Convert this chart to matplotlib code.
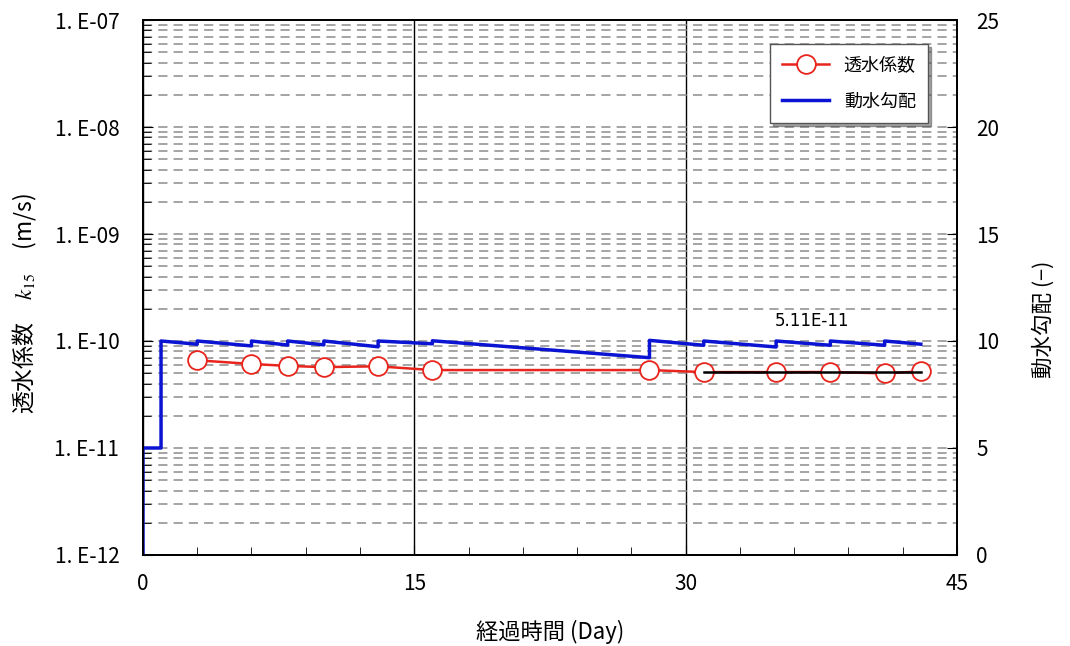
import matplotlib
matplotlib.use("Agg")
import matplotlib.pyplot as plt
from matplotlib.ticker import FixedLocator, LogLocator, NullFormatter

plt.rcParams['font.family'] = ['Noto Sans CJK JP', 'DejaVu Sans']
plt.rcParams['mathtext.fontset'] = 'stix'

### データ ###
# 透水係数 (m/s)
red_day = [3, 6, 8, 10, 13, 16, 28, 31, 35, 38, 41, 43]
red_k = [6.6e-11, 6.1e-11, 5.85e-11, 5.7e-11, 5.8e-11, 5.35e-11,
         5.35e-11, 5.12e-11, 5.12e-11, 5.13e-11, 4.98e-11, 5.2e-11]

# 動水勾配 (-)
blue_day = [0, 0, 1, 1, 3, 3, 6, 6, 8, 8, 10, 10, 13, 13, 16, 16,
            28, 28, 31, 31, 35, 35, 38, 38, 41, 41, 43]
blue_i = [0, 5, 5, 10.0, 9.85, 10.0, 9.77, 10.0, 9.81, 10.0, 9.82, 10.0,
          9.73, 10.0, 9.87, 10.01, 9.22, 10.03, 9.8, 10.0, 9.72, 10.0,
          9.8, 10.0, 9.8, 10.0, 9.85]

# 平均値 (31～43日)
avg_day = [31, 43]
avg_k = 5.11e-11
avg_label = "5.11E-11"

left_ticks = [1e-12, 1e-11, 1e-10, 1e-9, 1e-8, 1e-7]
left_labels = ["1. E-12", "1. E-11", "1. E-10", "1. E-09", "1. E-08", "1. E-07"]
x_ticks = [0, 15, 30, 45]
right_ticks = [0, 5, 10, 15, 20, 25]

### 描画 ###
fig = plt.figure(figsize=(10.7, 6.46), dpi=100)
ax = fig.add_axes([0.1336, 0.1409, 0.7608, 0.8281])
ax2 = ax.twinx()

ax.set_yscale('log')
ax.set_ylim(1e-12, 1e-7)
ax.set_xlim(0, 45)
ax.yaxis.set_major_locator(FixedLocator(left_ticks))
ax.set_yticklabels(left_labels)
ax.yaxis.set_minor_locator(LogLocator(base=10, subs=range(2, 10), numticks=20))
ax.yaxis.set_minor_formatter(NullFormatter())
ax.set_xticks(x_ticks)
ax.set_xticks(range(0, 46, 3), minor=True)

ax.grid(axis='y', which='both', color='#8c8c8c', linestyle=(0, (6, 4)), linewidth=1.1)
ax.grid(axis='x', which='major', color='black', linewidth=1.0)
ax.set_axisbelow(True)

ax.tick_params(which='both', direction='in', top=False, right=False,
               labelsize=15)
ax.tick_params(which='major', length=7)
ax.tick_params(which='minor', length=6)
ax.tick_params(axis='y', pad=17)
ax.tick_params(axis='x', pad=13)

l_red, = ax.plot(red_day, red_k, color='#e8241c', linewidth=1.8, marker='o',
                 markersize=13.5, markerfacecolor='white', markeredgecolor='#e8241c',
                 markeredgewidth=1.3, label='透水係数', zorder=3)
ax.plot(avg_day, [avg_k, avg_k], color='black', linewidth=1.8, zorder=4)
ax.text(37, 1.55e-10, avg_label, fontsize=12, ha='center', va='center',
        family=['DejaVu Sans'])

ax.set_ylabel('透水係数　$k_{15}$　(m/s)', fontsize=16.5)
ax.yaxis.set_label_coords(-0.128, 0.47)
ax.set_xlabel('経過時間 (Day)', fontsize=16, labelpad=18)

ax2.set_ylim(0, 25)
ax2.set_yticks(right_ticks)
l_blue, = ax2.plot(blue_day, blue_i, color='#0a14d2', linewidth=2.5, label='動水勾配')
ax2.tick_params(direction='in', length=7, labelsize=15, pad=14)
ax2.set_ylabel('動水勾配 (−)', fontsize=15.5)
ax2.yaxis.set_label_coords(1.093, 0.44)

for a in (ax, ax2):
    for s in a.spines.values():
        s.set_linewidth(1.3)

leg = ax2.legend(handles=[l_red, l_blue], loc='upper right',
                 bbox_to_anchor=(0.976, 0.972), fontsize=13, fancybox=False,
                 shadow=True, edgecolor='#555555', framealpha=1,
                 handlelength=2.6, borderpad=0.7, labelspacing=1.0)

fig.savefig('out.png', dpi=100)
